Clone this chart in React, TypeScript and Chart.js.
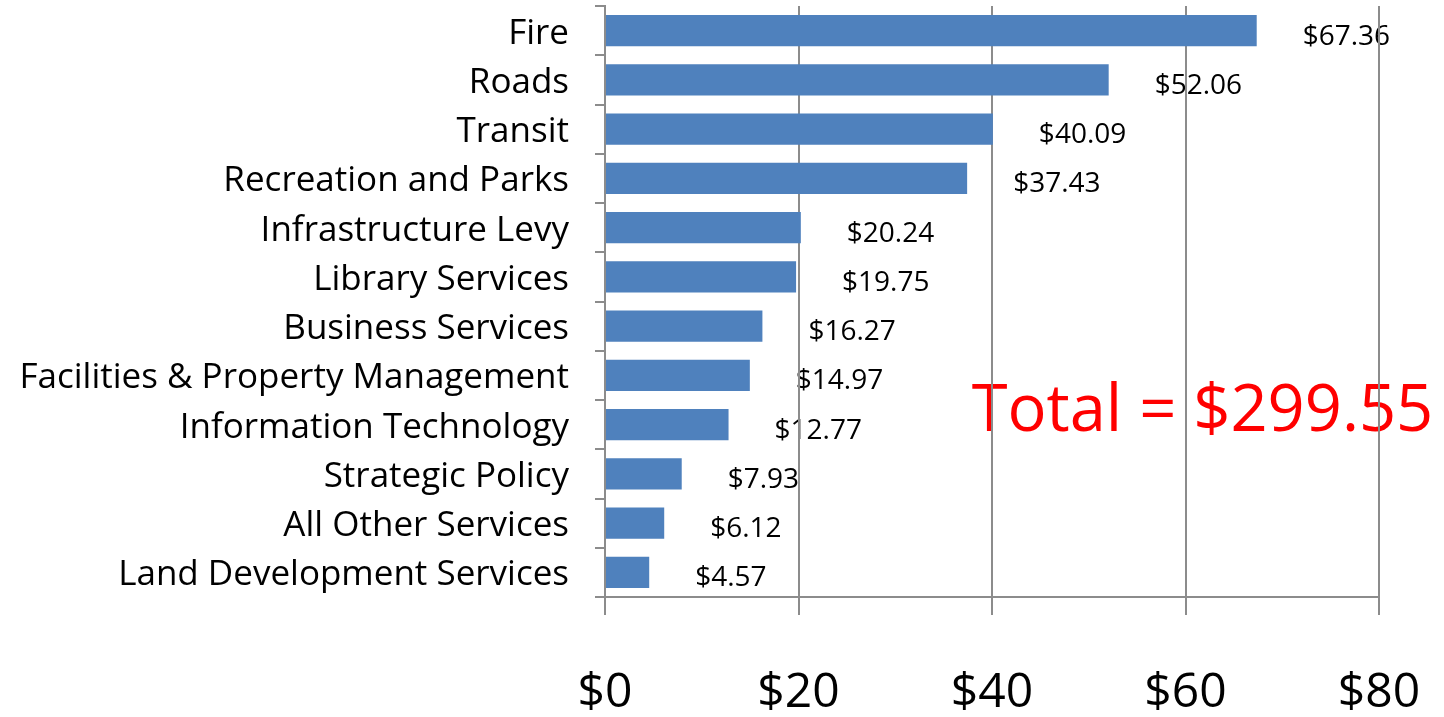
import React, { useEffect, useRef } from "react";
import { Chart, registerables } from "chart.js";

Chart.register(...registerables);

const categories = [
  "Fire",
  "Roads",
  "Transit",
  "Recreation and Parks",
  "Infrastructure Levy",
  "Library Services",
  "Business Services",
  "Facilities & Property Management",
  "Information Technology",
  "Strategic Policy",
  "All Other Services",
  "Land Development Services",
];
const values = [67.36, 52.06, 40.09, 37.43, 20.24, 19.75, 16.27, 14.97, 12.77, 7.93, 6.12, 4.57];
const xTicks = [0, 20, 40, 60, 80];
const totalLabel = "Total = $299.55";

const FONT = "'Open Sans', 'Liberation Sans', sans-serif";
const GRID = "#8c8c8c";

function zeroPad(scale: any) {
  scale.paddingTop = 0;
  scale.paddingBottom = 0;
  scale.paddingLeft = 0;
  scale.paddingRight = 0;
}

export default function App() {
  const ref = useRef<HTMLCanvasElement | null>(null);
  useEffect(() => {
    document.body.style.margin = "0";
    const canvas = ref.current!;
    const labelPlugin = {
      id: "labels",
      beforeDraw(chart: any) {
        const ctx = chart.ctx;
        const meta = chart.getDatasetMeta(0);
        ctx.save();
        ctx.font = `28px ${FONT}`;
        ctx.fillStyle = "#000";
        ctx.textAlign = "left";
        ctx.textBaseline = "middle";
        meta.data.forEach((bar: any, i: number) => {
          ctx.fillText("$" + values[i].toFixed(2), bar.x + 46, bar.y + 6);
        });
        const xs = chart.scales.x;
        const ys = chart.scales.y;
        ctx.font = `65px ${FONT}`;
        ctx.fillStyle = "#ff0000";
        ctx.fillText(totalLabel, xs.getPixelForValue(37.9), ys.getPixelForValue(7.75));
        ctx.restore();
      },
    };
    const chart = new Chart(canvas, {
      type: "bar",
      data: {
        labels: categories,
        datasets: [
          {
            data: values,
            backgroundColor: "#4f81bd",
            borderWidth: 0,
            barPercentage: 0.63,
            categoryPercentage: 1,
          },
        ],
      },
      options: {
        indexAxis: "y",
        animation: false,
        responsive: false,
        maintainAspectRatio: false,
        layout: { padding: { left: 0, right: 65, top: 6, bottom: 0 } },
        plugins: { legend: { display: false }, tooltip: { enabled: false } },
        scales: {
          x: {
            min: 0,
            max: 80,
            afterBuildTicks(scale: any) {
              scale.ticks = xTicks.map((v) => ({ value: v }));
            },
            afterFit(scale: any) {
              scale.height = 120;
              zeroPad(scale);
            },
            grid: { color: GRID, lineWidth: 2, tickLength: 18, drawTicks: true },
            border: { color: GRID, width: 2 },
            ticks: {
              color: "#000",
              font: { family: FONT, size: 48 },
              padding: 50,
              maxRotation: 0,
              callback: (v: any) => "$" + v,
            },
          },
          y: {
            afterFit(scale: any) {
              scale.width = 605;
              zeroPad(scale);
            },
            grid: { drawOnChartArea: false, drawTicks: true, tickLength: 10, color: GRID, lineWidth: 2, offset: true },
            border: { color: GRID, width: 2 },
            ticks: {
              color: "#000",
              font: { family: FONT, size: 35 },
              padding: 26,
              labelOffset: 3,
              autoSkip: false,
            },
          },
        },
      },
      plugins: [labelPlugin],
    });
    return () => chart.destroy();
  }, []);
  return <canvas ref={ref} width={1444} height={717} style={{ display: "block" }} />;
}
